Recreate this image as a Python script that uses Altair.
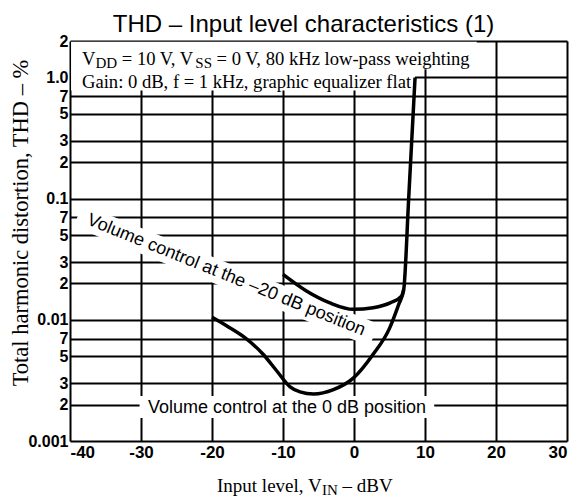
import altair as alt
import pandas as pd

# ---------------- data ----------------
title_text = "THD – Input level characteristics (1)"
x_ticks = [-40, -30, -20, -10, 0, 10, 20, 30]
y_ticks = [0.001, 0.002, 0.003, 0.005, 0.007, 0.01, 0.02, 0.03, 0.05, 0.07,
           0.1, 0.2, 0.3, 0.5, 0.7, 1.0, 2.0]
y_tick_labels = ["0.001", "2", "3", "5", "7", "0.01", "2", "3", "5", "7",
                 "0.1", "2", "3", "5", "7", "1.0", "2"]

# Volume control at the 0 dB position (lower curve, rises steeply above +7 dBV)
vol0_x = [-20, -17.9, -15.6, -12.8, -10.9, -9.0, -7.6, -5.7, -2.9, -0.1, 2.7, 5.0, 6.3, 7.0, 7.7, 8.6]
vol0_y = [0.0105, 0.0089, 0.0073, 0.0052, 0.0038, 0.0028, 0.00254, 0.00244, 0.00265, 0.0033,
          0.0052, 0.0085, 0.0134, 0.0177, 0.1, 1.0]
# Volume control at the -20 dB position (upper curve)
vol20_x = [-10, -6.7, -3.4, -0.1, 2.7, 5.1, 6.7, 7.0]
vol20_y = [0.0237, 0.0173, 0.0138, 0.0122, 0.0126, 0.0138, 0.0157, 0.0177]

label_20db = "Volume control at the –20 dB position"
label_0db = "Volume control at the 0 dB position"
y_title = "Total harmonic distortion, THD – %"

# ---------------- layout ----------------
W, H = 497, 400
SANS = "Liberation Sans"
SERIF = "Liberation Serif"

xs = alt.Scale(domain=[-40, 30], nice=False, zero=False)
ys = alt.Scale(type="log", domain=[0.001, 2], nice=False)

rows = []
for i, (x, y) in enumerate(zip(vol0_x, vol0_y)):
    rows.append({"x": x, "y": y, "s": "0 dB", "i": i})
for i, (x, y) in enumerate(zip(vol20_x, vol20_y)):
    rows.append({"x": x, "y": y, "s": "-20 dB", "i": i})
curves_df = pd.DataFrame(rows)

y_label_expr = ("[" + ",".join("'%s'" % l for l in y_tick_labels) + "][indexof(["
                + ",".join(repr(v) for v in y_ticks) + "], datum.value)]")

x_axis = alt.Axis(values=x_ticks, grid=True, ticks=False, domain=False, title=None,
                  labelExpr="'' + datum.value", labelFont=SANS, labelFontWeight="bold",
                  labelFontSize=17, labelColor="black", labelPadding=3,
                  gridColor="black", gridWidth=2, gridOpacity=1)
y_axis = alt.Axis(values=y_ticks, grid=True, ticks=False, domain=False, title=None,
                  labelExpr=y_label_expr, labelFont=SANS, labelFontWeight="bold",
                  labelFontSize=16, labelColor="black", labelPadding=2,
                  gridColor="black", gridWidth=2, gridOpacity=1)

# white masks that hide the grid behind texts (data coordinates)
mask_df = pd.DataFrame({
    "x1": [-39.85, 8.6, -30.2],
    "x2": [8.6, 17.3, 11.3],
    "y1": [0.78, 1.17, 0.00155],
    "y2": [1.97, 1.97, 0.00235],
})
masks = alt.Chart(mask_df).mark_rect(color="white").encode(
    x=alt.X("x1:Q", scale=xs, axis=x_axis),
    x2="x2:Q",
    y=alt.Y("y1:Q", scale=ys, axis=y_axis),
    y2="y2:Q",
)

band_df = pd.DataFrame({"x": [-38.87, 2.82], "y": [0.0728, 0.00748]})
band = alt.Chart(band_df).mark_line(color="white", strokeWidth=24, strokeCap="butt").encode(
    x=alt.X("x:Q", scale=xs), y=alt.Y("y:Q", scale=ys)
)

lines = alt.Chart(curves_df).mark_line(color="black", strokeWidth=3.5,
                                       interpolate="monotone").encode(
    x=alt.X("x:Q", scale=xs),
    y=alt.Y("y:Q", scale=ys),
    detail="s:N",
    order="i:Q",
)

lab20 = alt.Chart(pd.DataFrame({"x": [-18.0], "y": [0.0233], "t": [label_20db]})).mark_text(
    font=SANS, fontSize=18, angle=22, align="center", baseline="middle", color="black"
).encode(x=alt.X("x:Q", scale=xs), y=alt.Y("y:Q", scale=ys), text="t:N")

lab0 = alt.Chart(pd.DataFrame({"x": [-9.44], "y": [0.001875], "t": [label_0db]})).mark_text(
    font=SANS, fontSize=18, align="center", baseline="middle", color="black"
).encode(x=alt.X("x:Q", scale=xs), y=alt.Y("y:Q", scale=ys), text="t:N")


def ptext(t, px, py, size, font=SERIF, **kw):
    return alt.Chart(pd.DataFrame({"t": [t]})).mark_text(
        font=font, fontSize=size, align=kw.pop("align", "left"), color="black", **kw
    ).encode(x=alt.value(px), y=alt.value(py), text="t:N")


# condition box text (with subscripts)
box = [
    ptext("V", 12, 17.5, 18.6),
    ptext("DD", 25.4, 21.5, 15),
    ptext("= 10 V, V", 51.8, 17.5, 18.6),
    ptext("SS", 125.3, 21.5, 15),
    ptext("= 0 V, 80 kHz low-pass weighting", 146.6, 17.5, 18.6),
    ptext("Gain: 0 dB, f = 1 kHz, graphic equalizer flat", 12, 40.5, 18.6),
]

xtitle = [
    ptext("Input level, V", 147, 445, 19),
    ptext("IN", 252, 449, 15),
    ptext("– dBV", 272.6, 445, 19),
]

ytitle = ptext(y_title, -49, 182, 22.5, align="center", angle=270, baseline="middle")
title = ptext(title_text, 233.5, -16, 24, font=SANS, align="center")

chart = alt.layer(masks, band, lines, lab20, lab0, *box, *xtitle, ytitle, title).properties(
    width=W, height=H,
    autosize=alt.AutoSizeParams(type="none"),
    padding={"left": 62, "top": 33, "right": 2, "bottom": 57},
).configure_view(stroke="black", strokeWidth=2).configure(background="white")

chart.save("out.html", embed_options={"renderer": "svg", "actions": False})
